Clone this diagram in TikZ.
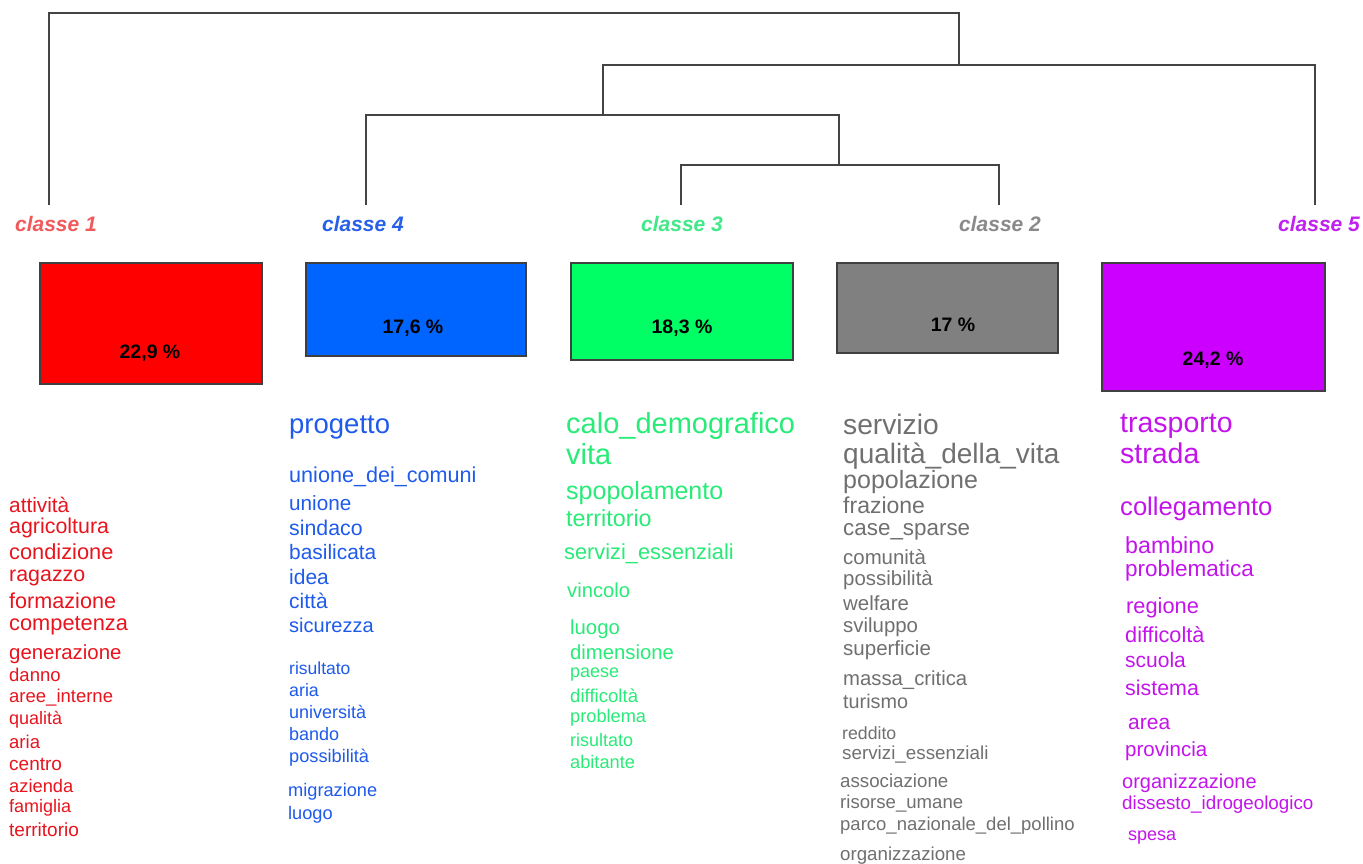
\documentclass[tikz,border=0pt]{standalone}
\usepackage{fontspec}
\setmainfont{Liberation Sans}
\definecolor{cred}{HTML}{E8141E}
\definecolor{cblue}{HTML}{1E5AEB}
\definecolor{cgreen}{HTML}{28EB78}
\definecolor{cgray}{HTML}{707070}
\definecolor{cmag}{HTML}{C314EB}
\definecolor{lred}{HTML}{F05A5A}
\definecolor{lblue}{HTML}{2860E8}
\definecolor{lgreen}{HTML}{40E888}
\definecolor{lgray}{HTML}{8A8A8A}
\definecolor{lmag}{HTML}{C020F0}
\definecolor{bred}{HTML}{FF0000}
\definecolor{bblue}{HTML}{0064FF}
\definecolor{bgreen}{HTML}{00FF64}
\definecolor{bgray}{HTML}{808080}
\definecolor{bmag}{HTML}{CC00FF}
\definecolor{treec}{HTML}{444444}
\newcommand\W[6]{\node[word,text=#1,font=\fontsize{#5}{#5}\selectfont] (#2) at (#3,{#4+0.3*#5}) {#6};}
\begin{document}
\begin{tikzpicture}[x=1pt,y=-1pt,
  word/.style={anchor=base west,inner sep=0pt},
  tree/.style={draw=treec,line width=1.3pt},
  cls/.style={font=\fontsize{21}{21}\selectfont\bfseries\itshape,inner sep=0pt},
  pbox/.style={draw=black!75,line width=1.4pt,inner sep=0pt},
  pct/.style={font=\fontsize{19.5}{19.5}\selectfont\bfseries,text=black,inner sep=0pt}]
\useasboundingbox (0,0) rectangle (1363,863);
\fill[white] (0,0) rectangle (1363,863);
% dendrogram
\coordinate (t1) at (49,205);
\coordinate (t4) at (366,205);
\coordinate (t3) at (681,205);
\coordinate (t2) at (999,205);
\coordinate (t5) at (1315,205);
\coordinate (m32) at (839,165);
\coordinate (m432) at (603,115);
\coordinate (m4325) at (959,65);
\coordinate (root) at (500,13);
\draw[tree] (t3) |- (m32) -| (t2);
\draw[tree] (t4) |- (m432) -| (m32);
\draw[tree] (m432) |- (m4325) -| (t5);
\draw[tree] (t1) |- (root) -| (m4325);
% class labels
\node[cls,text=lred] (c1) at (56,224) {classe 1};
\node[cls,text=lblue] (c4) at (363,224) {classe 4};
\node[cls,text=lgreen] (c3) at (682,224) {classe 3};
\node[cls,text=lgray] (c2) at (1000,224) {classe 2};
\node[cls,text=lmag] (c5) at (1319,224) {classe 5};
% boxes
\node[pbox,fill=bred,minimum width=222pt,minimum height=121pt] (b1) at (151,323.5) {};
\node[pbox,fill=bblue,minimum width=220pt,minimum height=93pt] (b4) at (416,309.5) {};
\node[pbox,fill=bgreen,minimum width=222pt,minimum height=97pt] (b3) at (682,311.5) {};
\node[pbox,fill=bgray,minimum width=221pt,minimum height=90pt] (b2) at (947.5,308) {};
\node[pbox,fill=bmag,minimum width=223pt,minimum height=128pt] (b5) at (1213.5,327) {};
\node[pct] (p1) at (150,353) {22,9 \%};
\node[pct] (p4) at (413,328) {17,6 \%};
\node[pct] (p3) at (682,328) {18,3 \%};
\node[pct] (p2) at (953,325) {17 \%};
\node[pct] (p5) at (1213,360) {24,2 \%};
% classe 1 words
\W{cred}{r1}{9}{506}{20.8}{attività}
\W{cred}{r2}{9}{527}{21.4}{agricoltura}
\W{cred}{r3}{9}{553}{21.8}{condizione}
\W{cred}{r4}{9}{575}{21.4}{ragazzo}
\W{cred}{r5}{9}{602}{21.6}{formazione}
\W{cred}{r6}{9}{624}{21.8}{competenza}
\W{cred}{r7}{9}{653}{20.4}{generazione}
\W{cred}{r8}{9}{676}{18.5}{danno}
\W{cred}{r9}{9}{697}{18.5}{aree\_interne}
\W{cred}{r10}{9}{719}{18}{qualità}
\W{cred}{r11}{9}{743}{18.5}{aria}
\W{cred}{r12}{9}{765}{19}{centro}
\W{cred}{r13}{9}{787}{18.3}{azienda}
\W{cred}{r14}{9}{807}{18}{famiglia}
\W{cred}{r15}{9}{831}{19}{territorio}
% classe 4 words
\W{cblue}{u1}{289}{425}{27.5}{progetto}
\W{cblue}{u2}{289}{476}{21.6}{unione\_dei\_comuni}
\W{cblue}{u3}{289}{504}{20.7}{unione}
\W{cblue}{u4}{289}{529}{21.3}{sindaco}
\W{cblue}{u5}{289}{553}{20.9}{basilicata}
\W{cblue}{u6}{289}{578}{21}{idea}
\W{cblue}{u7}{289}{602}{21}{città}
\W{cblue}{u8}{289}{626}{20}{sicurezza}
\W{cblue}{u9}{289}{669}{17.5}{risultato}
\W{cblue}{u10}{289}{691}{17.8}{aria}
\W{cblue}{u11}{289}{713}{18}{università}
\W{cblue}{u12}{289}{735}{18}{bando}
\W{cblue}{u13}{289}{757}{18.2}{possibilità}
\W{cblue}{u14}{288}{791}{18.2}{migrazione}
\W{cblue}{u15}{288}{814}{18.2}{luogo}
% classe 3 words
\W{cgreen}{g1}{566}{425}{29}{calo\_demografico}
\W{cgreen}{g2}{566}{456}{29}{vita}
\W{cgreen}{g3}{566}{492}{25}{spopolamento}
\W{cgreen}{g4}{566}{519}{23.3}{territorio}
\W{cgreen}{g5}{564}{553}{21.8}{servizi\_essenziali}
\W{cgreen}{g6}{567}{591}{20.2}{vincolo}
\W{cgreen}{g7}{570}{628}{20.3}{luogo}
\W{cgreen}{g8}{570}{653}{20.3}{dimensione}
\W{cgreen}{g9}{570}{672}{18}{paese}
\W{cgreen}{g10}{570}{697}{18.6}{difficoltà}
\W{cgreen}{g11}{570}{717}{18.2}{problema}
\W{cgreen}{g12}{570}{741}{18}{risultato}
\W{cgreen}{g13}{570}{763}{18.2}{abitante}
% classe 2 words
\W{cgray}{s1}{843}{426}{28.2}{servizio}
\W{cgray}{s2}{843}{455}{28}{qualità\_della\_vita}
\W{cgray}{s3}{843}{481}{25}{popolazione}
\W{cgray}{s4}{843}{507}{23}{frazione}
\W{cgray}{s5}{843}{529}{22.4}{case\_sparse}
\W{cgray}{s6}{843}{558}{20.4}{comunità}
\W{cgray}{s7}{843}{579}{20.4}{possibilità}
\W{cgray}{s8}{843}{604}{20.4}{welfare}
\W{cgray}{s9}{843}{626}{20.4}{sviluppo}
\W{cgray}{s10}{843}{649}{20.5}{superficie}
\W{cgray}{s11}{843}{679}{20.3}{massa\_critica}
\W{cgray}{s12}{843}{703}{19.8}{turismo}
\W{cgray}{s13}{842}{734}{17.7}{reddito}
\W{cgray}{s14}{842}{754}{18.8}{servizi\_essenziali}
\W{cgray}{s15}{840}{782}{18.7}{associazione}
\W{cgray}{s16}{840}{803}{18.6}{risorse\_umane}
\W{cgray}{s17}{840}{825}{18.5}{parco\_nazionale\_del\_pollino}
\W{cgray}{s18}{840}{855}{18.7}{organizzazione}
% classe 5 words
\W{cmag}{v1}{1120}{424}{28.5}{trasporto}
\W{cmag}{v2}{1120}{455}{28.5}{strada}
\W{cmag}{v3}{1120}{508}{25.6}{collegamento}
\W{cmag}{v4}{1125}{547}{23.2}{bambino}
\W{cmag}{v5}{1125}{570}{22.5}{problematica}
\W{cmag}{v6}{1126}{607}{21.8}{regione}
\W{cmag}{v7}{1125}{636}{21.7}{difficoltà}
\W{cmag}{v8}{1125}{661}{21}{scuola}
\W{cmag}{v9}{1125}{689}{21.4}{sistema}
\W{cmag}{v10}{1128}{723}{21}{area}
\W{cmag}{v11}{1125}{750}{20.5}{provincia}
\W{cmag}{v12}{1122}{782}{20}{organizzazione}
\W{cmag}{v13}{1122}{804}{18.8}{dissesto\_idrogeologico}
\W{cmag}{v14}{1128}{835}{18}{spesa}
\end{tikzpicture}
\end{document}
